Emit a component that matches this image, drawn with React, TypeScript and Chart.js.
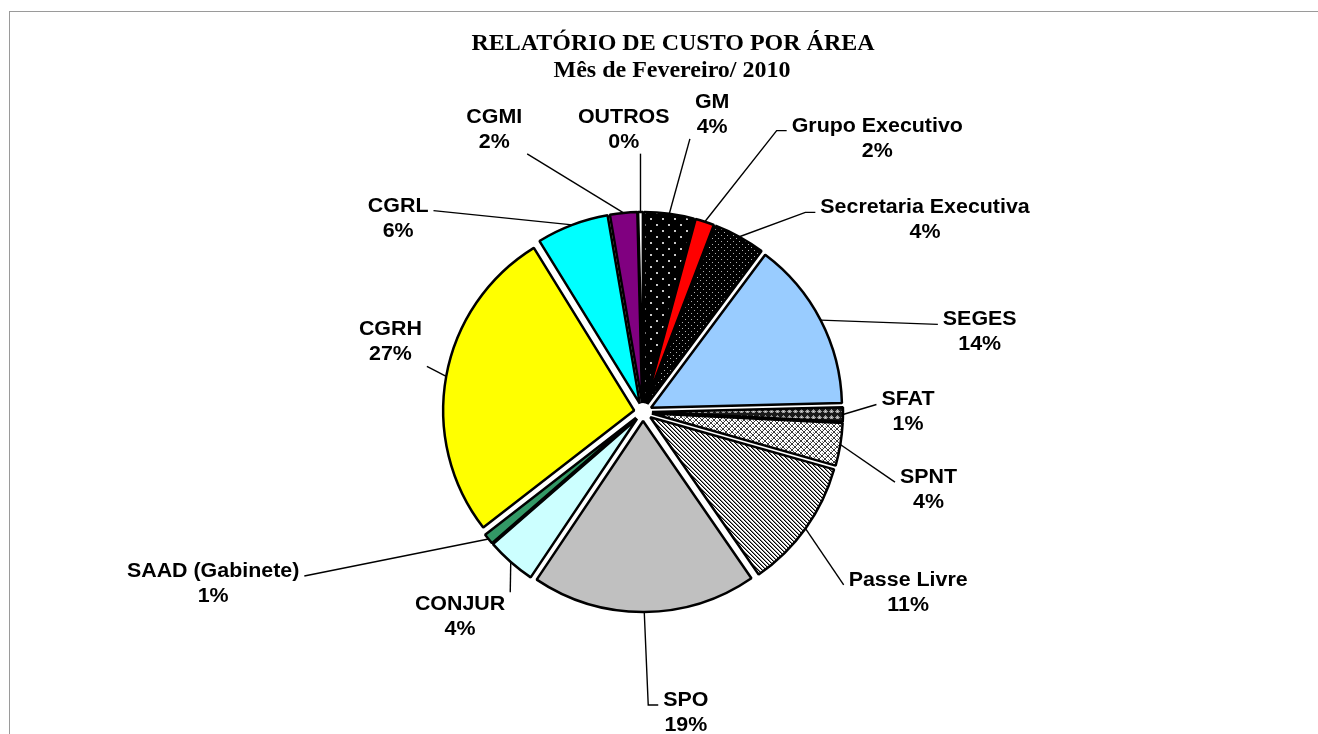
import React, { useEffect, useRef } from 'react';
import { Chart, registerables } from 'chart.js';

Chart.register(...registerables);

const chartTitle = 'RELATÓRIO DE CUSTO POR ÁREA';
const chartSubtitle = 'Mês de Fevereiro/ 2010';

const categories = [
  'GM',
  'Grupo Executivo',
  'Secretaria Executiva',
  'SEGES',
  'SFAT',
  'SPNT',
  'Passe Livre',
  'SPO',
  'CONJUR',
  'SAAD (Gabinete)',
  'CGRH',
  'CGRL',
  'CGMI',
  'OUTROS',
];

const values = [4.2, 1.6, 4.4, 14.4, 1.2, 3.6, 11.0, 19.0, 4.2, 0.9, 26.7, 6.1, 2.3, 0.4];

// fill style keys: plain colours or pattern names
const fillKeys = [
  'pattern:sparseDots',
  '#FF0000',
  'pattern:denseDots',
  '#99CCFF',
  'pattern:darkGrid',
  'pattern:lightCross',
  'pattern:stripes',
  '#C0C0C0',
  '#CCFFFF',
  '#339966',
  '#FFFF00',
  '#00FFFF',
  '#800080',
  '#FFFFFF',
];

// label placement (polar, relative to pie centre: degrees clockwise from 12 o'clock, distance px)
const labelAngles = [13.1, 40.6, 55.8, 76.7, 90.1, 105.3, 124.3, 171.9, 221.7, 248.2, 285.4, 308.3, 332.2, 356.1];
const labelDistances = [305, 360, 341, 346, 265, 296, 321, 304, 275, 463, 262, 312, 319, 283];
// how each leader line meets its label: 'side' = into the side at the first line, 'box' = nearest box point
const leaderModes = ['box', 'side', 'side', 'side', 'side', 'side', 'side', 'side', 'box', 'side', 'box', 'side', 'box', 'box'];
// short horizontal elbow length before the label (px)
const leaderElbows = [0, 10, 10, 0, 0, 0, 0, 10, 0, 0, 0, 0, 0, 0];

const EXPLODE = 9;
const PIE_RADIUS = 191;
const LABEL_FONT = 'bold 20px "Liberation Sans", Arial, sans-serif';
const LABEL_STRETCH = 1.07;

function makePattern(kind: string): CanvasPattern | string {
  const c = document.createElement('canvas');
  const x = c.getContext('2d') as CanvasRenderingContext2D;
  if (kind === 'sparseDots') {
    c.width = 12; c.height = 12;
    x.fillStyle = '#000'; x.fillRect(0, 0, 12, 12);
    x.fillStyle = '#c8c8c8';
    x.fillRect(2, 2, 2, 2); x.fillRect(8, 8, 2, 2);
  } else if (kind === 'denseDots') {
    c.width = 6; c.height = 6;
    x.fillStyle = '#000'; x.fillRect(0, 0, 6, 6);
    x.fillStyle = '#b0b0b0';
    x.fillRect(1, 1, 1, 1); x.fillRect(4, 4, 1, 1);
  } else if (kind === 'darkGrid') {
    c.width = 6; c.height = 6;
    x.fillStyle = '#1a1a1a'; x.fillRect(0, 0, 6, 6);
    x.fillStyle = '#9a9a9a';
    x.fillRect(3, 1, 1, 1); x.fillRect(2, 2, 3, 1); x.fillRect(1, 3, 5, 1); x.fillRect(2, 4, 3, 1);
    x.fillStyle = '#e0e0e0';
    x.fillRect(3, 3, 1, 1);
  } else if (kind === 'lightCross') {
    c.width = 6; c.height = 6;
    x.fillStyle = '#fff'; x.fillRect(0, 0, 6, 6);
    x.fillStyle = '#3a3a3a';
    for (let i = 0; i < 6; i++) { x.fillRect(i, i, 1, 1); x.fillRect(5 - i, i, 1, 1); }
    x.fillStyle = '#888';
    x.fillRect(0, 3, 1, 1); x.fillRect(3, 0, 1, 1);
  } else if (kind === 'stripes') {
    c.width = 4; c.height = 4;
    x.fillStyle = '#fff'; x.fillRect(0, 0, 4, 4);
    for (let i = 0; i < 4; i++) {
      x.fillStyle = '#000'; x.fillRect(i, i, 1, 1);
      x.fillStyle = '#8a8a8a'; x.fillRect((i + 1) % 4, i, 1, 1);
    }
  }
  return x.createPattern(c, 'repeat') as CanvasPattern;
}

const explodePlugin = {
  id: 'explodeSlices',
  afterDatasetUpdate(chart: any, args: any) {
    const meta = chart.getDatasetMeta(args.index);
    meta.data.forEach((el: any) => {
      const mid = (el.startAngle + el.endAngle) / 2;
      el.x += Math.cos(mid) * EXPLODE;
      el.y += Math.sin(mid) * EXPLODE;
    });
  },
};

const framePlugin = {
  id: 'frame',
  beforeDraw(chart: any) {
    const ctx = chart.ctx;
    ctx.save();
    ctx.fillStyle = '#fff';
    ctx.fillRect(0, 0, chart.width, chart.height);
    ctx.strokeStyle = '#9a9a9a';
    ctx.lineWidth = 1;
    ctx.strokeRect(9.5, 11.5, chart.width + 40, chart.height + 40);
    ctx.restore();
  },
  afterDraw(chart: any) {
    const ctx = chart.ctx;
    ctx.save();
    ctx.fillStyle = '#000';
    ctx.textAlign = 'center';
    ctx.textBaseline = 'middle';
    ctx.font = 'bold 24px "Liberation Serif", "Times New Roman", serif';
    ctx.fillText(chartTitle, 673, 44);
    ctx.fillText(chartSubtitle, 672, 71);
    ctx.restore();
  },
};

function stretchedText(ctx: CanvasRenderingContext2D, t: string, x: number, y: number) {
  ctx.save();
  ctx.translate(x, y);
  ctx.scale(LABEL_STRETCH, 1);
  ctx.fillText(t, 0, 0);
  ctx.restore();
}

const labelPlugin = {
  id: 'leaderLabels',
  afterDatasetsDraw(chart: any) {
    const ctx = chart.ctx;
    const meta = chart.getDatasetMeta(0);
    const area = chart.chartArea;
    const cx = (area.left + area.right) / 2;
    const cy = (area.top + area.bottom) / 2;
    const total = values.reduce((a, b) => a + b, 0);
    ctx.save();
    ctx.font = LABEL_FONT;
    ctx.textAlign = 'center';
    ctx.textBaseline = 'middle';
    meta.data.forEach((el: any, i: number) => {
      const name = categories[i];
      const pct = Math.round((values[i] / total) * 100) + '%';
      const a = (labelAngles[i] * Math.PI) / 180 - Math.PI / 2;
      const lx = cx + Math.cos(a) * labelDistances[i];
      const ly = cy + Math.sin(a) * labelDistances[i];
      const w = Math.max(ctx.measureText(name).width, ctx.measureText(pct).width) * LABEL_STRETCH;
      const left = lx - w / 2 - 5;
      const right = lx + w / 2 + 5;
      const top = ly - 25;
      const bottom = ly + 24;
      const mid = (el.startAngle + el.endAngle) / 2;
      const ax = el.x + Math.cos(mid) * el.outerRadius;
      const ay = el.y + Math.sin(mid) * el.outerRadius;
      ctx.strokeStyle = '#000';
      ctx.lineWidth = 1.4;
      ctx.beginPath();
      ctx.moveTo(ax, ay);
      if (leaderModes[i] === 'side') {
        const dir = ax < left ? 1 : -1;
        const sx = dir > 0 ? left : right;
        const sy = ly - 8;
        const elbow = leaderElbows[i];
        if (elbow > 0) ctx.lineTo(sx - dir * elbow, sy);
        ctx.lineTo(sx, sy);
      } else {
        const ex = Math.min(Math.max(ax, left), right);
        const ey = Math.min(Math.max(ay, top), bottom);
        ctx.lineTo(ex, ey);
      }
      ctx.stroke();
      ctx.fillStyle = '#000';
      stretchedText(ctx, name, lx, ly - 12.5);
      stretchedText(ctx, pct, lx, ly + 12.5);
    });
    ctx.restore();
  },
};

export default function App() {
  const ref = useRef<HTMLCanvasElement | null>(null);
  useEffect(() => {
    if (!ref.current) return;
    const fills = fillKeys.map((k) => (k.startsWith('pattern:') ? makePattern(k.slice(8)) : k));
    const chart = new Chart(ref.current, {
      type: 'pie',
      data: {
        labels: categories,
        datasets: [
          {
            data: values,
            backgroundColor: fills as any,
            borderColor: '#000',
            borderWidth: 2.5,
            radius: PIE_RADIUS,
          } as any,
        ],
      },
      options: {
        animation: false,
        responsive: false,
        maintainAspectRatio: false,
        layout: { padding: { top: 190, bottom: 100, left: 200, right: 232 } },
        plugins: {
          legend: { display: false },
          tooltip: { enabled: false },
          title: { display: false },
        },
      } as any,
      plugins: [explodePlugin, framePlugin, labelPlugin],
    });
    return () => chart.destroy();
  }, []);
  return (
    <div style={{ position: 'absolute', left: 0, top: 0, width: 1318, height: 734 }}>
      <canvas ref={ref} width={1318} height={734} style={{ display: 'block', width: 1318, height: 734 }} />
    </div>
  );
}
